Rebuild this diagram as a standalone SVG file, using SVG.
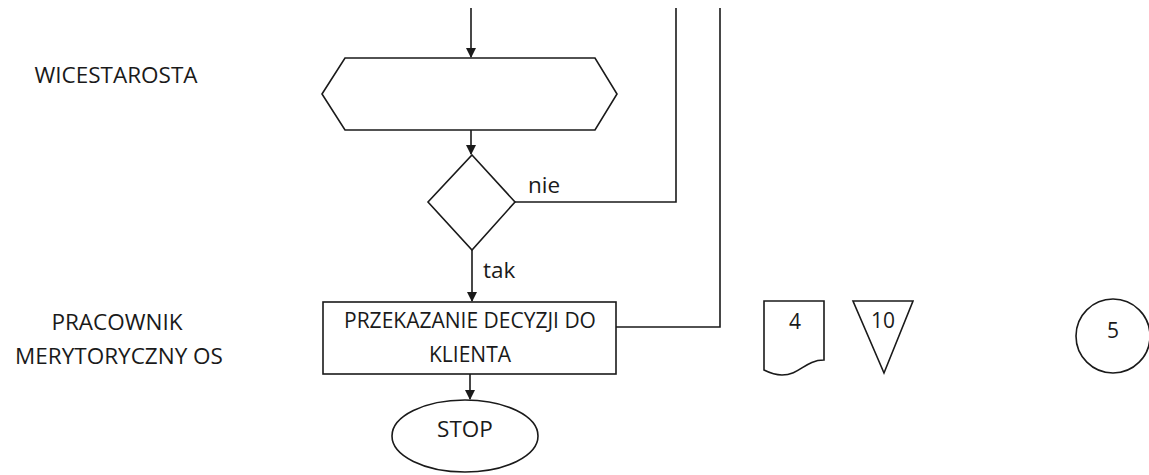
<svg xmlns="http://www.w3.org/2000/svg" width="1149" height="475" viewBox="0 0 1149 475">
<style>
.s{fill:#fff;stroke:#1a1a1a;stroke-width:1.6}
.c{fill:none;stroke:#1a1a1a;stroke-width:1.6}
text{font-family:"Open Sans","Liberation Sans",sans-serif;fill:#1a1a1a;font-size:21px}
.l{font-size:22.5px}
.m{text-anchor:middle}
</style>
<defs>
<marker id="ah" markerWidth="10" markerHeight="10" refX="9" refY="5" orient="auto" markerUnits="userSpaceOnUse">
<path d="M0,0 L10,5 L0,10 Z" fill="#1a1a1a"/>
</marker>
</defs>
<rect width="1149" height="475" fill="#fff"/>
<g id="labels">
<text x="116" y="83" class="m l">WICESTAROSTA</text>
<text x="117" y="330" class="m l">PRACOWNIK</text>
<text x="119" y="364" class="m l">MERYTORYCZNY OS</text>
</g>
<g id="connectors">
<line class="c" x1="471" y1="8" x2="471" y2="57" marker-end="url(#ah)"/>
<line class="c" x1="471" y1="130" x2="471" y2="154" marker-end="url(#ah)"/>
<line class="c" x1="472" y1="250" x2="472" y2="301" marker-end="url(#ah)"/>
<line class="c" x1="470" y1="374" x2="470" y2="399" marker-end="url(#ah)"/>
<polyline class="c" points="515,202 676,202 676,8"/>
<polyline class="c" points="616,327 720,327 720,8"/>
<text x="528" y="193" class="l">nie</text>
<text x="483" y="278" class="l">tak</text>
</g>
<g id="hexagon">
<polygon class="s" points="322,94 345,58 595,58 617,94 595,130 345,130"/>
</g>
<g id="decision">
<polygon class="s" points="472,155 515,202 472,250 428,202"/>
</g>
<g id="process">
<rect class="s" x="323" y="302" width="293" height="72"/>
<text x="470" y="328" class="m">PRZEKAZANIE DECYZJI DO</text>
<text x="470" y="362" class="m">KLIENTA</text>
</g>
<g id="stop">
<ellipse class="s" cx="465" cy="436" rx="73" ry="36"/>
<text x="465" y="437" class="m l">STOP</text>
</g>
<g id="document">
<path class="s" d="M764,301 L824,301 L824,360 C805,360 800,375 782,375 C774,375 768,372 764,370 Z"/>
<text x="795" y="329" class="m">4</text>
</g>
<g id="triangle">
<polygon class="s" points="853,301 913,301 884,373"/>
<text x="883" y="328" class="m">10</text>
</g>
<g id="connector-circle">
<circle class="s" cx="1113" cy="336" r="37"/>
<text x="1113" y="338" class="m">5</text>
</g>
</svg>
